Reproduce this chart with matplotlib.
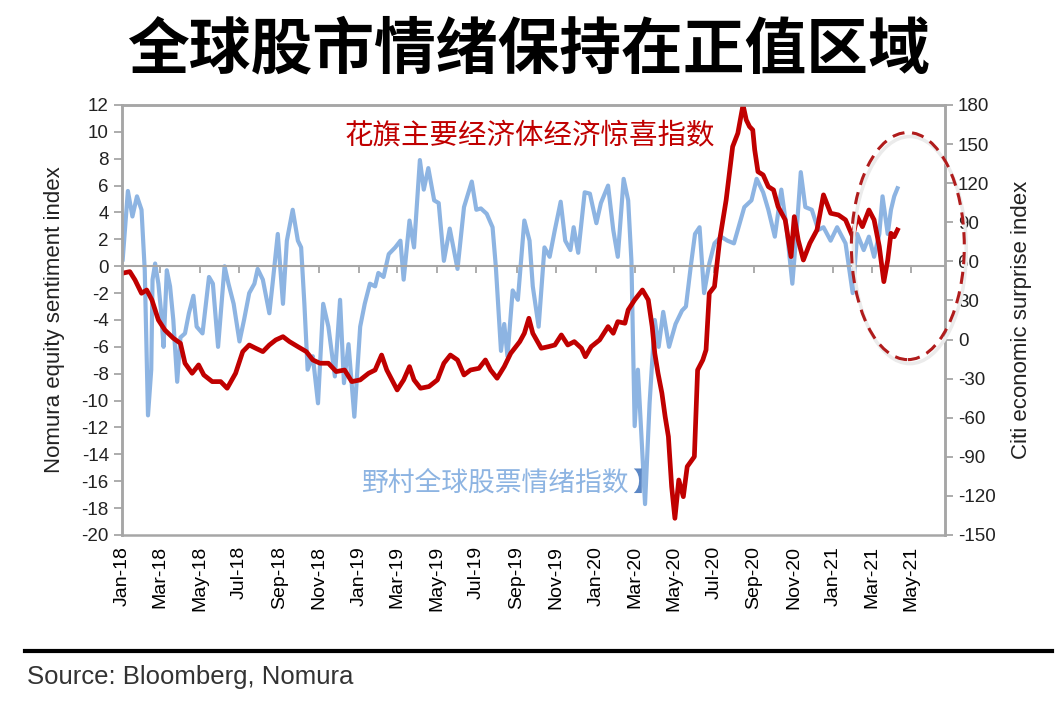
import matplotlib
matplotlib.use('Agg')
import matplotlib.pyplot as plt
import matplotlib.dates as mdates
from matplotlib.patches import Ellipse
from matplotlib.lines import Line2D
import pandas as pd

plt.rcParams['font.family'] = ['Liberation Sans', 'Noto Sans CJK SC', 'DejaVu Sans']
plt.rcParams['axes.unicode_minus'] = False

# Nomura equity sentiment index (left axis)
nomura_dates = [
    '2018-01-02', '2018-01-10', '2018-01-17', '2018-01-24', '2018-01-31', '2018-02-05',
    '2018-02-10', '2018-02-15', '2018-02-17', '2018-02-21', '2018-02-26', '2018-03-02',
    '2018-03-06', '2018-03-11', '2018-03-16', '2018-03-21', '2018-03-27', '2018-04-01',
    '2018-04-08', '2018-04-14', '2018-04-21', '2018-04-26', '2018-05-05', '2018-05-15',
    '2018-05-21', '2018-05-29', '2018-06-08', '2018-06-14', '2018-06-22', '2018-07-01',
    '2018-07-08', '2018-07-16', '2018-07-24', '2018-07-29', '2018-08-06', '2018-08-16',
    '2018-08-21', '2018-08-29', '2018-09-06', '2018-09-12', '2018-09-21', '2018-09-29',
    '2018-10-04', '2018-10-09', '2018-10-14', '2018-10-22', '2018-10-30', '2018-11-07',
    '2018-11-15', '2018-11-25', '2018-12-03', '2018-12-09', '2018-12-16', '2018-12-25',
    '2019-01-03', '2019-01-10', '2019-01-18', '2019-01-26', '2019-01-31', '2019-02-08',
    '2019-02-16', '2019-02-26', '2019-03-06', '2019-03-11', '2019-03-20', '2019-03-27',
    '2019-04-05', '2019-04-11', '2019-04-18', '2019-04-27', '2019-05-04', '2019-05-12',
    '2019-05-21', '2019-06-02', '2019-06-12', '2019-06-24', '2019-07-01', '2019-07-08',
    '2019-07-17', '2019-07-26', '2019-07-31', '2019-08-08', '2019-08-13', '2019-08-18',
    '2019-08-26', '2019-09-03', '2019-09-13', '2019-09-21', '2019-09-26', '2019-10-05',
    '2019-10-14', '2019-10-22', '2019-10-30', '2019-11-08', '2019-11-15', '2019-11-23',
    '2019-11-28', '2019-12-05', '2019-12-15', '2019-12-23', '2020-01-02', '2020-01-09',
    '2020-01-20', '2020-01-28', '2020-02-04', '2020-02-13', '2020-02-20', '2020-02-25',
    '2020-03-01', '2020-03-06', '2020-03-17', '2020-03-24', '2020-04-01', '2020-04-07',
    '2020-04-14', '2020-04-23', '2020-05-03', '2020-05-13', '2020-05-19', '2020-05-27',
    '2020-06-02', '2020-06-09', '2020-06-16', '2020-06-24', '2020-07-02', '2020-07-12',
    '2020-07-22', '2020-08-01', '2020-08-17', '2020-08-28', '2020-09-05', '2020-09-15',
    '2020-09-23', '2020-10-03', '2020-10-13', '2020-10-21', '2020-10-30', '2020-11-06',
    '2020-11-12', '2020-11-19', '2020-11-29', '2020-12-09', '2020-12-17', '2020-12-28',
    '2021-01-07', '2021-01-20', '2021-01-31', '2021-02-07', '2021-02-17', '2021-02-25',
    '2021-03-05', '2021-03-13', '2021-03-18', '2021-03-26', '2021-03-31', '2021-04-05',
    '2021-04-10',
]
nomura_values = [
    0.5, 5.6, 3.7, 5.2, 4.2, -0.3,
    -11.1, -7.7, -1.0, 0.2, -1.3, -3.3,
    -6.0, -0.3, -1.5, -4.0, -8.6, -5.3,
    -5.0, -3.5, -2.2, -4.5, -5.0, -0.8,
    -1.3, -6.0, 0.0, -1.3, -2.8, -5.6,
    -4.0, -2.0, -1.3, -0.2, -1.0, -3.5,
    -1.3, 2.4, -2.8, 1.9, 4.2, 1.9,
    1.4, -2.8, -7.7, -6.7, -10.2, -2.8,
    -4.5, -8.2, -2.5, -8.7, -5.8, -11.2,
    -4.5, -2.8, -1.3, -1.5, -0.5, -0.8,
    0.9, 1.4, 1.9, -1.0, 3.4, 1.4,
    7.9, 5.7, 7.3, 4.9, 4.7, 0.4,
    2.8, -0.2, 4.4, 6.3, 4.2, 4.3,
    3.9, 2.9, 0.0, -6.3, -4.3, -6.7,
    -1.8, -2.5, 3.4, 1.9, -1.5, -4.5,
    1.4, 0.7, 2.7, 4.8, 1.9, 1.2,
    2.9, 1.0, 5.5, 5.4, 3.2, 4.7,
    6.0, 2.7, 0.7, 6.5, 4.9, 0.4,
    -11.9, -7.7, -17.7, -10.2, -4.0, -6.0,
    -3.4, -6.0, -4.3, -3.3, -3.0, 0.2,
    2.4, 2.9, -2.0, 0.2, 1.7, 2.2,
    1.9, 1.7, 4.4, 4.9, 6.5, 5.5,
    4.2, 2.2, 5.7, 2.9, -1.3, 2.9,
    7.0, 4.4, 4.2, 2.7, 2.9, 1.9,
    2.9, 1.7, -2.0, 2.4, 1.2, 2.2,
    0.7, 2.4, 5.2, 2.4, 4.2, 5.2,
    5.8,
]

# Citi economic surprise index (right axis)
citi_dates = [
    '2018-01-01', '2018-01-13', '2018-01-21', '2018-01-31', '2018-02-08', '2018-02-16',
    '2018-02-26', '2018-03-08', '2018-03-21', '2018-04-01', '2018-04-08', '2018-04-19',
    '2018-04-29', '2018-05-07', '2018-05-20', '2018-06-02', '2018-06-12', '2018-06-25',
    '2018-07-06', '2018-07-16', '2018-07-26', '2018-08-06', '2018-08-16', '2018-08-26',
    '2018-09-06', '2018-09-16', '2018-09-29', '2018-10-12', '2018-10-22', '2018-11-02',
    '2018-11-15', '2018-11-27', '2018-12-10', '2018-12-21', '2019-01-03', '2019-01-16',
    '2019-01-26', '2019-02-05', '2019-02-13', '2019-02-21', '2019-03-01', '2019-03-11',
    '2019-03-20', '2019-03-27', '2019-04-06', '2019-04-19', '2019-05-02', '2019-05-12',
    '2019-05-22', '2019-06-02', '2019-06-12', '2019-06-22', '2019-07-05', '2019-07-15',
    '2019-07-23', '2019-08-02', '2019-08-13', '2019-08-23', '2019-09-06', '2019-09-13',
    '2019-09-20', '2019-09-26', '2019-10-09', '2019-10-20', '2019-10-30', '2019-11-09',
    '2019-11-19', '2019-11-29', '2019-12-10', '2019-12-16', '2019-12-25', '2020-01-07',
    '2020-01-20', '2020-01-28', '2020-02-04', '2020-02-15', '2020-02-20', '2020-03-01',
    '2020-03-13', '2020-03-22', '2020-03-28', '2020-04-01', '2020-04-06', '2020-04-12',
    '2020-04-17', '2020-04-22', '2020-04-27', '2020-05-02', '2020-05-08', '2020-05-15',
    '2020-05-21', '2020-06-01', '2020-06-06', '2020-06-14', '2020-06-19', '2020-06-24',
    '2020-07-02', '2020-07-10', '2020-07-20', '2020-07-30', '2020-08-07', '2020-08-15',
    '2020-08-20', '2020-08-25', '2020-08-30', '2020-09-02', '2020-09-07', '2020-09-15',
    '2020-09-23', '2020-10-01', '2020-10-08', '2020-10-19', '2020-10-28', '2020-11-02',
    '2020-11-08', '2020-11-16', '2020-11-26', '2020-12-07', '2020-12-17', '2020-12-28',
    '2021-01-09', '2021-01-20', '2021-01-31', '2021-02-07', '2021-02-15', '2021-02-25',
    '2021-03-05', '2021-03-13', '2021-03-20', '2021-03-26', '2021-03-31', '2021-04-05',
    '2021-04-10',
]
citi_values = [
    50.8, 52.1, 45.7, 35.5, 38.0, 30.4,
    15.0, 7.3, 1.0, -2.9, -18.2, -25.9,
    -19.5, -27.2, -32.3, -32.3, -37.4, -25.9,
    -9.3, -4.2, -6.7, -9.3, -4.2, -0.3,
    2.2, -1.6, -5.5, -9.3, -15.7, -18.2,
    -18.2, -24.6, -23.4, -32.3, -31.0, -25.9,
    -23.4, -11.9, -23.4, -31.0, -38.7, -31.0,
    -20.8, -31.0, -37.4, -36.1, -31.0, -18.2,
    -11.9, -15.7, -27.2, -23.4, -22.1, -15.7,
    -23.4, -29.7, -20.8, -10.6, -1.6, 4.8,
    16.3, 4.8, -6.7, -5.5, -4.2, 3.5,
    -4.2, -1.6, -6.7, -13.2, -5.5, -0.3,
    9.9, 4.8, 13.7, 12.5, 22.7, 30.4,
    38.0, 30.4, 9.9, -10.6, -25.9, -41.2,
    -59.2, -74.5, -112.9, -137.2, -107.8, -120.6,
    -97.5, -89.9, -23.4, -15.7, -8.0, 35.5,
    40.6, 76.4, 107.1, 148.0, 158.3, 180.0,
    168.5, 163.4, 160.8, 145.5, 128.8, 126.3,
    117.3, 114.8, 102.0, 91.8, 63.6, 94.3,
    76.4, 61.0, 73.9, 84.1, 111.0, 96.9,
    95.6, 91.8, 78.9, 94.3, 86.6, 99.4,
    91.8, 71.3, 44.4, 61.0, 81.5, 78.9,
    84.1,
]

left_ticks = list(range(-20, 13, 2))
right_ticks = list(range(-150, 181, 30))

title = '全球股市情绪保持在正值区域'
citi_label = '花旗主要经济体经济惊喜指数'
nomura_label = '野村全球股票情绪指数'
source = 'Source: Bloomberg, Nomura'

blue = '#8DB4E2'
red = '#C00000'
grey = '#A6A6A6'

fig = plt.figure(figsize=(10.64, 7.03), dpi=100)
ax = fig.add_axes([0.1147, 0.239, 0.7733, 0.6117])
ax2 = ax.twinx()

ax.plot(pd.to_datetime(nomura_dates), nomura_values, color=blue, lw=3.0,
        solid_joinstyle='round')
ax2.plot(pd.to_datetime(citi_dates), citi_values, color=red, lw=3.4,
         solid_joinstyle='round')

ax.set_xlim(pd.Timestamp('2018-01-01'), pd.Timestamp('2021-06-22'))
ax.set_ylim(-20, 12)
ax2.set_ylim(-150, 180)
ax.set_yticks(left_ticks)
ax2.set_yticks(right_ticks)

ax.xaxis.set_major_locator(mdates.MonthLocator(bymonth=[1, 3, 5, 7, 9, 11]))
ax.xaxis.set_major_formatter(mdates.DateFormatter('%b-%y'))

# zero line carries the small month ticks, labels sit at the bottom frame
ax.spines['bottom'].set_position(('data', 0))
ax.tick_params(axis='x', direction='out', length=5, width=1.3, color=grey,
               labelbottom=False)
ax2.xaxis.set_visible(True)
ax2.tick_params(axis='x', length=0, labelbottom=True, labelrotation=90,
                labelsize=14, pad=8)

for a in (ax, ax2):
    for s in a.spines.values():
        s.set_color(grey)
        s.set_linewidth(1.8)
ax.spines['bottom'].set_linewidth(1.5)

ax.tick_params(axis='y', direction='out', length=6, width=1.3, color=grey,
               labelsize=13.5, labelcolor='#222222')
ax2.tick_params(axis='y', direction='out', length=6, width=1.3, color=grey,
                labelsize=13.5, labelcolor='#222222')

ax.set_ylabel('Nomura equity sentiment index', fontsize=16, color='#222222', labelpad=12)
ax2.set_ylabel('Citi economic surprise index', fontsize=16, color='#222222', labelpad=11)

# dashed ring round the latest readings, with a faint shadow
ring_center = mdates.date2num(pd.Timestamp('2021-04-26'))
shadow = Ellipse((ring_center + 3, 1.2), width=174, height=16.9, fill=False,
                 edgecolor='#EBEBEB', lw=2.5, clip_on=False, zorder=4)
ring = Ellipse((ring_center, 1.5), width=174, height=16.9, fill=False,
               edgecolor='#B01C1C', lw=2.2, ls=(0, (4, 2.5)), clip_on=False,
               zorder=5)
for p in (shadow, ring):
    p.set_transform(ax.transData)
    ax2.add_patch(p)

cjk = ['Noto Sans CJK SC', 'DejaVu Sans']
fig.text(0.497, 0.929, title, family=cjk, fontsize=44.5, fontweight='black',
         ha='center', va='center', color='black')
fig.text(0.324, 0.808, citi_label, family=cjk, fontsize=20.5, color=red,
         ha='left', va='center')
fig.text(0.339, 0.313, nomura_label, family=cjk, fontsize=19.3, color=blue,
         ha='left', va='center')
fig.text(0.594, 0.313, '】', family=cjk, fontsize=19, color='#5B87C5',
         ha='left', va='center')

fig.add_artist(Line2D([0.0235, 0.989], [0.074, 0.074], transform=fig.transFigure,
                      color='black', lw=3))
fig.text(0.0254, 0.037, source, fontsize=18.5, color='#333333', ha='left', va='center')

fig.savefig('out.png', dpi=100)
